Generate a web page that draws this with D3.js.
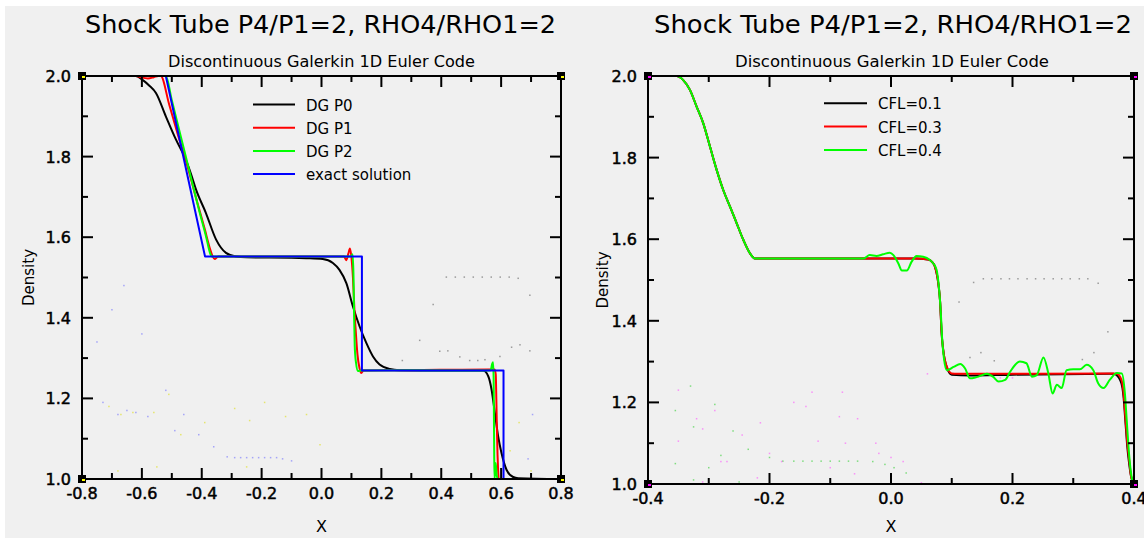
<!DOCTYPE html>
<html><head><meta charset="utf-8">
<script src="https://cdn.jsdelivr.net/npm/d3@7"></script>
<style>
body{margin:0;background:#fff;}
svg{display:block;}
text{font-family:"DejaVu Sans",sans-serif;fill:#000;}
</style>
</head><body>
<svg id="c" width="1144" height="538"></svg>
<script>
// ---------------- DATA ----------------
const titleText = "Shock Tube P4/P1=2, RHO4/RHO1=2";
const subtitleText = "Discontinuous Galerkin 1D Euler Code";
const xAxisLabel = "X";
const yAxisLabel = "Density";

const leftXTickValues = [-0.8,-0.6,-0.4,-0.2,0.0,0.2,0.4,0.6,0.8];
const leftXTickLabels = ["-0.8","-0.6","-0.4","-0.2","0.0","0.2","0.4","0.6","0.8"];
const rightXTickValues = [-0.4,-0.2,0.0,0.2,0.4];
const rightXTickLabels = ["-0.4","-0.2","0.0","0.2","0.4"];
const yTickValues = [1.0,1.2,1.4,1.6,1.8,2.0];
const yTickLabels = ["1.0","1.2","1.4","1.6","1.8","2.0"];

const leftLegendLabels = ["DG P0","DG P1","DG P2","exact solution"];
const rightLegendLabels = ["CFL=0.1","CFL=0.3","CFL=0.4"];

// Left panel series: [x, density]
const dgP0 = [[-0.8,2.0],[-0.62,2.0],[-0.599,1.991],[-0.575,1.976],[-0.553,1.958],[-0.52,1.9],[-0.486,1.842],
  [-0.453,1.792],[-0.435,1.755],[-0.419,1.718],[-0.386,1.66],[-0.352,1.594],[-0.319,1.561],[-0.286,1.552],
  [-0.25,1.55],[-0.1,1.549],[-0.051,1.548],[0.004,1.546],[0.038,1.536],[0.06,1.519],[0.083,1.486],[0.105,1.428],
  [0.127,1.379],[0.15,1.337],[0.172,1.304],[0.194,1.284],[0.228,1.273],[0.26,1.27],[0.4,1.269],[0.54,1.269],
  [0.557,1.255],[0.568,1.222],[0.579,1.164],[0.59,1.106],[0.601,1.065],[0.618,1.023],[0.64,1.005],[0.657,1.002],[0.8,1.0]];
const dgP1 = [[-0.8,2.0],[-0.62,2.0],[-0.6,1.996],[-0.58,1.994],[-0.56,1.997],[-0.545,2.0],[-0.537,2.0],
  [-0.509,1.93],[-0.48,1.855],[-0.453,1.79],[-0.42,1.70],[-0.39,1.62],[-0.372,1.57],[-0.364,1.553],[-0.357,1.546],
  [-0.345,1.552],[0.0,1.552],[0.075,1.552],[0.083,1.543],[0.09,1.56],[0.095,1.572],[0.1,1.55],[0.105,1.5],
  [0.11,1.42],[0.115,1.36],[0.12,1.31],[0.127,1.275],[0.133,1.263],[0.14,1.269],[0.3,1.27],[0.56,1.272],
  [0.578,1.272],[0.582,1.26],[0.584,1.2],[0.586,1.12],[0.588,1.06],[0.59,1.02],[0.592,1.0],[0.8,1.0]];
const dgP2 = [[-0.8,2.0],[-0.52,2.0],[-0.5,1.94],[-0.47,1.85],[-0.44,1.76],[-0.41,1.67],[-0.385,1.60],
  [-0.372,1.56],[-0.366,1.552],[-0.35,1.552],[0.09,1.552],[0.098,1.552],[0.104,1.558],[0.107,1.5],[0.109,1.4],
  [0.111,1.33],[0.115,1.29],[0.122,1.268],[0.13,1.269],[0.3,1.27],[0.55,1.269],[0.565,1.27],[0.57,1.285],
  [0.573,1.29],[0.575,1.25],[0.576,1.15],[0.577,1.05],[0.578,1.0],[0.582,1.04],[0.585,1.01],[0.59,1.0],[0.8,1.0]];
const exactSolution = [[-0.8,2.0],[-0.52,2.0],[-0.389,1.552],[0.135,1.552],[0.135,1.269],[0.608,1.269],[0.608,1.0],[0.8,1.0]];

// Right panel series: [x, density]
const cfl01 = [[-0.4,2.0],[-0.353,2.0],[-0.342,1.99],[-0.331,1.966],[-0.32,1.925],[-0.309,1.884],[-0.298,1.827],
  [-0.287,1.77],[-0.276,1.72],[-0.265,1.68],[-0.254,1.639],[-0.243,1.598],[-0.232,1.565],[-0.224,1.553],
  [-0.21,1.553],[0.04,1.553],[0.061,1.55],[0.067,1.545],[0.072,1.534],[0.078,1.49],[0.081,1.443],[0.083,1.377],
  [0.086,1.328],[0.092,1.285],[0.1,1.268],[0.13,1.266],[0.2,1.268],[0.36,1.27],[0.366,1.27],[0.372,1.266],
  [0.377,1.255],[0.381,1.235],[0.383,1.21],[0.385,1.17],[0.387,1.13],[0.389,1.09],[0.392,1.05],[0.395,1.02],
  [0.398,1.005],[0.4,1.0]];
const cfl03 = [[-0.4,2.0],[-0.353,2.0],[-0.342,1.99],[-0.331,1.966],[-0.32,1.925],[-0.309,1.884],[-0.298,1.827],
  [-0.287,1.77],[-0.276,1.72],[-0.265,1.68],[-0.254,1.639],[-0.243,1.598],[-0.232,1.565],[-0.224,1.553],
  [-0.21,1.553],[0.04,1.553],[0.061,1.55],[0.067,1.545],[0.072,1.534],[0.078,1.49],[0.081,1.443],[0.083,1.377],
  [0.086,1.328],[0.092,1.287],[0.1,1.271],[0.11,1.27],[0.36,1.271],[0.366,1.271],[0.372,1.27],[0.377,1.263],
  [0.381,1.245],[0.383,1.22],[0.385,1.18],[0.387,1.14],[0.389,1.10],[0.392,1.06],[0.395,1.02],[0.398,1.005],[0.4,1.0]];
const cfl04 = [[-0.4,2.0],[-0.353,2.0],[-0.342,1.99],[-0.331,1.966],[-0.32,1.925],[-0.309,1.884],[-0.298,1.827],
  [-0.287,1.77],[-0.276,1.72],[-0.265,1.68],[-0.254,1.639],[-0.243,1.598],[-0.232,1.565],[-0.224,1.553],
  [-0.21,1.553],[-0.1,1.553],[-0.045,1.553],[-0.035,1.561],[-0.024,1.559],[-0.013,1.563],[-0.002,1.567],
  [0.004,1.561],[0.012,1.541],[0.018,1.523],[0.026,1.523],[0.034,1.545],[0.042,1.559],[0.053,1.557],[0.064,1.549],
  [0.07,1.54],[0.075,1.525],[0.079,1.48],[0.082,1.42],[0.084,1.36],[0.087,1.31],[0.092,1.279],[0.103,1.287],
  [0.114,1.294],[0.122,1.283],[0.13,1.259],[0.141,1.262],[0.158,1.27],[0.168,1.263],[0.177,1.251],[0.188,1.255],
  [0.196,1.275],[0.212,1.3],[0.223,1.296],[0.232,1.263],[0.24,1.267],[0.251,1.31],[0.259,1.271],[0.266,1.222],
  [0.273,1.243],[0.281,1.235],[0.289,1.279],[0.3,1.281],[0.311,1.281],[0.322,1.292],[0.333,1.279],[0.341,1.247],
  [0.35,1.235],[0.36,1.255],[0.372,1.272],[0.38,1.271],[0.385,1.222],[0.388,1.157],[0.391,1.09],[0.394,1.04],
  [0.397,1.01],[0.4,1.0]];

// faint stray dots visible in the background of each panel: [x, density]
const leftGhostGray = [[0.417,1.501],[0.447,1.501],[0.477,1.501],[0.507,1.501],[0.537,1.501],[0.567,1.501],
  [0.597,1.501],[0.627,1.501],[0.657,1.498],[0.373,1.433],[0.328,1.344],[0.395,1.317],[0.422,1.318],
  [0.462,1.303],[0.495,1.294],[0.522,1.294],[0.546,1.296],[0.596,1.304],[0.635,1.327],[0.663,1.333],
  [0.696,1.318],[0.696,1.456],[0.27,1.294]];
const leftGhostBlue = [[-0.315,1.055],[-0.29,1.053],[-0.27,1.053],[-0.25,1.053],[-0.23,1.053],[-0.21,1.053],
  [-0.19,1.053],[-0.17,1.053],[-0.15,1.053],[-0.13,1.05],[-0.1,1.045],[-0.73,1.19],[-0.68,1.16],[-0.65,1.17],
  [-0.62,1.165],[-0.58,1.155],[-0.52,1.22],[-0.49,1.12],[-0.46,1.16],[-0.41,1.11],[-0.36,1.08],[-0.7,1.42],
  [-0.66,1.48],[-0.6,1.36],[-0.75,1.34],[0.705,1.16],[0.69,1.05]];
const leftGhostYellow = [[-0.71,1.18],[-0.67,1.16],[-0.63,1.165],[-0.56,1.165],[-0.51,1.21],[-0.47,1.11],
  [-0.39,1.14],[-0.29,1.175],[-0.24,1.145],[-0.19,1.19],[-0.12,1.155],[-0.05,1.16],[-0.005,1.085],
  [-0.25,1.03],[-0.55,1.03],[-0.68,1.02],[0.66,1.14],[0.7,1.02],[0.63,1.07],[-0.8,1.06]];
const rightGhostGray = [[0.112,1.446],[0.136,1.494],[0.152,1.503],[0.166,1.503],[0.181,1.503],[0.195,1.503],
  [0.209,1.503],[0.224,1.503],[0.238,1.503],[0.252,1.503],[0.267,1.503],[0.281,1.503],[0.295,1.503],
  [0.31,1.503],[0.324,1.503],[0.341,1.492],[0.357,1.373],[0.13,1.31],[0.148,1.322],[0.17,1.302],
  [0.315,1.305],[0.334,1.322]];
const rightGhostGreen = [[-0.178,1.056],[-0.16,1.056],[-0.145,1.056],[-0.13,1.056],[-0.115,1.056],
  [-0.1,1.056],[-0.085,1.056],[-0.07,1.056],[-0.055,1.056],[-0.03,1.055],[-0.01,1.048],[0.005,1.04],
  [0.025,1.027],[-0.2,1.065],[-0.235,1.085],[-0.26,1.13],[-0.29,1.195],[-0.325,1.14],[-0.355,1.18],
  [-0.355,1.05],[-0.325,1.01],[-0.3,1.04],[-0.28,1.07],[-0.25,1.005],[-0.33,1.24]];
const rightGhostMagenta = [[-0.35,1.23],[-0.32,1.16],[-0.31,1.135],[-0.29,1.18],[-0.28,1.055],[-0.27,1.055],
  [-0.245,1.12],[-0.215,1.15],[-0.2,1.075],[-0.18,1.055],[-0.16,1.2],[-0.14,1.19],[-0.12,1.105],[-0.1,1.04],
  [-0.085,1.165],[-0.075,1.1],[-0.055,1.16],[-0.025,1.1],[-0.02,1.075],[0.0,1.065],[0.02,1.055],[0.05,1.003],
  [-0.31,1.005],[-0.22,1.015],[-0.13,1.225],[-0.08,1.225],[-0.06,1.025],[-0.35,1.105],[0.06,1.27],[0.18,1.26],
  [0.2,1.26]];

// ---------------- DRAW ----------------
const svg = d3.select("#c");
svg.append("rect").attr("x",5).attr("y",6).attr("width",1139).attr("height",532).attr("fill","#f0f0f0");

function panel(cfg){
  const x = d3.scaleLinear().domain(cfg.xDomain).range([cfg.left,cfg.right]);
  const y = d3.scaleLinear().domain([1,2]).range([cfg.bottom,cfg.top]);
  const g = svg.append("g");

  // titles
  g.append("text").attr("x",cfg.titleX).attr("y",33).attr("font-size",25)
    .attr("textLength",cfg.titleW).attr("lengthAdjust","spacingAndGlyphs").text(titleText);
  g.append("text").attr("x",cfg.subX).attr("y",67).attr("font-size",15)
    .attr("textLength",cfg.subW).attr("lengthAdjust","spacingAndGlyphs").text(subtitleText);

  // faint stray dots
  cfg.ghosts.forEach(gs=>{
    g.selectAll(null).data(gs.data).enter().append("rect")
      .attr("x",d=>x(d[0])-0.75).attr("y",d=>y(d[1])-0.75).attr("width",1.5).attr("height",1.5)
      .attr("fill",gs.color).attr("opacity",0.55);
  });

  // series lines
  cfg.series.forEach(s=>{
    const line = d3.line().x(d=>x(d[0])).y(d=>y(d[1])).curve(s.smooth?d3.curveMonotoneX:d3.curveLinear);
    g.append("path").datum(s.data).attr("d",line).attr("fill","none")
      .attr("stroke",s.color).attr("stroke-width",2).attr("stroke-linejoin","round");
  });

  // frame
  g.append("rect").attr("x",cfg.left).attr("y",cfg.top).attr("width",cfg.right-cfg.left)
    .attr("height",cfg.bottom-cfg.top).attr("fill","none").attr("stroke","#000").attr("stroke-width",2);

  // ticks every 0.1, majors at labelled values
  const [x0,x1] = cfg.xDomain;
  const nx = Math.round((x1-x0)/0.1);
  for(let i=0;i<=nx;i++){
    const v = x0 + i*0.1;
    const len = i%2===0?11:6;
    const px = x(v);
    g.append("line").attr("x1",px).attr("x2",px).attr("y1",cfg.bottom).attr("y2",cfg.bottom-len).attr("stroke","#000").attr("stroke-width",2);
    g.append("line").attr("x1",px).attr("x2",px).attr("y1",cfg.top).attr("y2",cfg.top+len).attr("stroke","#000").attr("stroke-width",2);
  }
  for(let i=0;i<=10;i++){
    const v = 1 + i*0.1;
    const len = i%2===0?11:6;
    const py = y(v);
    g.append("line").attr("x1",cfg.left).attr("x2",cfg.left+len).attr("y1",py).attr("y2",py).attr("stroke","#000").attr("stroke-width",2);
    g.append("line").attr("x1",cfg.right).attr("x2",cfg.right-len).attr("y1",py).attr("y2",py).attr("stroke","#000").attr("stroke-width",2);
  }
  // tick labels
  cfg.xTickValues.forEach((v,i)=>{
    g.append("text").attr("x",x(v)).attr("y",cfg.bottom+20).attr("text-anchor","middle")
      .attr("font-size",16).attr("stroke","#000").attr("stroke-width",0.5).text(cfg.xTickLabels[i]);
  });
  yTickValues.forEach((v,i)=>{
    g.append("text").attr("x",cfg.left-11).attr("y",y(v)+6).attr("text-anchor","end")
      .attr("font-size",16).attr("stroke","#000").attr("stroke-width",0.5).text(yTickLabels[i]);
  });
  // axis labels
  g.append("text").attr("x",(cfg.left+cfg.right)/2).attr("y",532).attr("text-anchor","middle")
    .attr("font-size",16).text(xAxisLabel);
  g.append("text").attr("transform",`translate(${cfg.yLabX},${(cfg.top+cfg.bottom)/2}) rotate(-90)`)
    .attr("text-anchor","middle").attr("font-size",15).text(yAxisLabel);

  // corner markers
  [[cfg.left,cfg.top],[cfg.right,cfg.top],[cfg.left,cfg.bottom],[cfg.right,cfg.bottom]].forEach(c=>{
    g.append("rect").attr("x",c[0]-4).attr("y",c[1]-4).attr("width",8).attr("height",8).attr("fill","#000");
    g.append("rect").attr("x",c[0]).attr("y",c[1]).attr("width",3).attr("height",2).attr("fill",cfg.cornerColor);
  });

  // legend
  cfg.legend.forEach((lab,i)=>{
    const ly = cfg.legY + i*cfg.legStep;
    g.append("line").attr("x1",cfg.legX).attr("x2",cfg.legX+cfg.legLen).attr("y1",ly).attr("y2",ly)
      .attr("stroke",cfg.series[i].color).attr("stroke-width",2);
    g.append("text").attr("x",cfg.legX+cfg.legLen+cfg.legGap).attr("y",ly+6).attr("font-size",15).text(lab);
  });
}

panel({
  xDomain:[-0.8,0.8], left:82, right:561, top:76, bottom:479,
  titleX:85, titleW:471, subX:168, subW:307, yLabX:34,
  xTickValues:leftXTickValues, xTickLabels:leftXTickLabels,
  cornerColor:"#ffff00",
  ghosts:[{data:leftGhostGray,color:"#555555"},{data:leftGhostBlue,color:"#6666ff"},{data:leftGhostYellow,color:"#dddd00"}],
  series:[{data:dgP0,color:"#000000",smooth:true},{data:dgP1,color:"#ff0000",smooth:true},
          {data:dgP2,color:"#00ff00",smooth:true},{data:exactSolution,color:"#0000ff",smooth:false}],
  legend:leftLegendLabels, legX:253, legLen:42, legGap:11, legY:104.5, legStep:23.2
});
panel({
  xDomain:[-0.4,0.4], left:648, right:1134, top:76, bottom:484,
  titleX:654, titleW:478, subX:735, subW:314, yLabX:608,
  xTickValues:rightXTickValues, xTickLabels:rightXTickLabels,
  cornerColor:"#ff00ff",
  ghosts:[{data:rightGhostGray,color:"#555555"},{data:rightGhostGreen,color:"#22cc22"},{data:rightGhostMagenta,color:"#ff44ff"}],
  series:[{data:cfl01,color:"#000000",smooth:true},{data:cfl03,color:"#ff0000",smooth:true},
          {data:cfl04,color:"#00ff00",smooth:true}],
  legend:rightLegendLabels, legX:824, legLen:43, legGap:11, legY:103.3, legStep:23.3
});
</script>
</body></html>
